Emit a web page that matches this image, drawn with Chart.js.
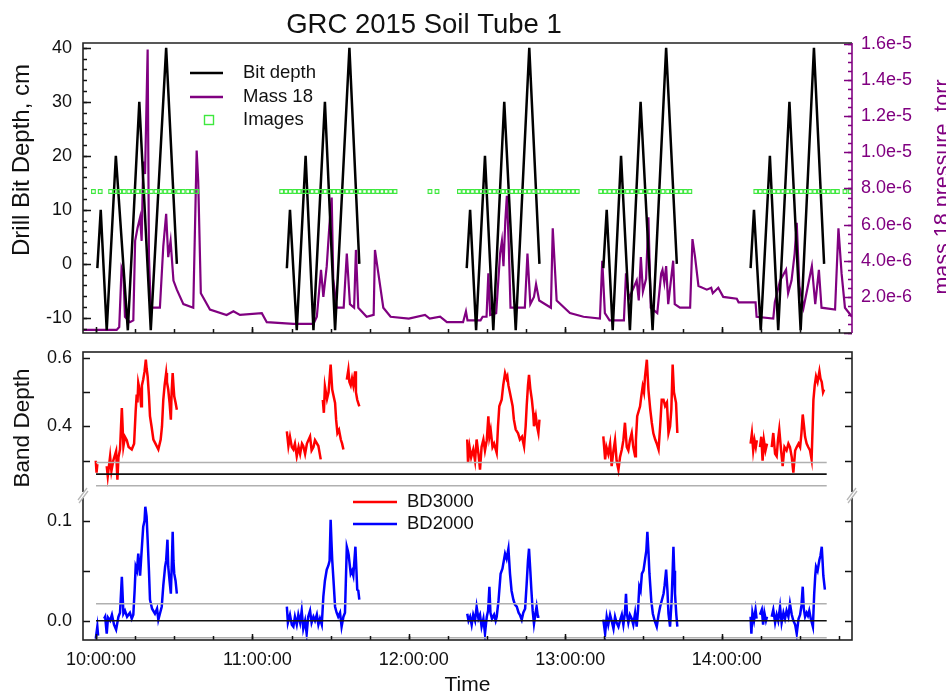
<!DOCTYPE html>
<html>
<head>
<meta charset="utf-8">
<script src="https://cdn.jsdelivr.net/npm/chart.js@4.4.1/dist/chart.umd.min.js"></script>
<style>
  body { margin: 0; background: #fff; width: 946px; height: 696px; overflow: hidden; position: relative; }
  canvas { position: absolute; left: 0; }
  #topChart { top: 0; }
  #bandChart { top: 345px; }
</style>
</head>
<body>
<canvas id="topChart" width="946" height="345"></canvas>
<canvas id="bandChart" width="946" height="351"></canvas>
<script>
// time is in minutes after 10:00:00
const hourLabels = ['10:00:00', '11:00:00', '12:00:00', '13:00:00', '14:00:00'];

// drill bit depth, cm  [minute, depth]  (null = drill idle)
const drillBit = [
  [0.5,-0.8],[1.8,10],[4.1,-12.3],[7.6,20],[12.2,-12.3],[16.6,30],[21.0,-12.3],[26.9,40],[31.0,0],[32,null],
  [73.2,-0.8],[74.4,10],[77.0,-12.3],[80.4,20],[83.4,-12.3],[87.8,30],[91.7,-12.3],[97.2,40],[101.0,0],[102,null],
  [142.2,-0.8],[143.5,10],[145.8,-12.3],[149.2,20],[152.4,-12.3],[156.6,30],[161.0,-12.3],[166.2,40],[170.1,0],[171,null],
  [194.6,-0.8],[195.9,10],[198.2,-12.3],[201.4,20],[204.8,-12.3],[208.9,30],[213.5,-12.3],[218.7,40],[222.8,0],[224,null],
  [251.1,-0.8],[252.4,10],[255.0,-12.3],[258.5,20],[261.7,-12.3],[266.0,30],[270.3,-12.3],[275.4,40],[279.3,0]
];

// mass 18 pressure in micro-torr  [minute, pressure]
const mass18 = [
  [-5,0.17],[7.9,0.17],[8.9,0.33],[9.8,3.6],[10.5,3.3],[11.1,0.9],[13.0,0.6],[14.3,0.7],[15.0,5.1],[15.9,5.8],
  [16.9,6.4],[17.5,5.1],[18.1,9.5],[18.8,8.8],[19.8,15.7],[20.3,4.2],[21.0,1.4],[24.5,1.4],[25.8,4.8],[26.9,6.6],
  [27.7,4.2],[28.6,5.1],[29.7,2.9],[31.0,2.4],[33.5,1.6],[37.3,1.4],[38.6,10.1],[39.2,8.4],[40.2,2.2],[43.7,1.3],
  [50.1,1.0],[52.7,1.2],[55.2,1.0],[63.6,1.1],[65.5,0.6],[75.7,0.5],[83.4,0.5],[84.7,0.9],[86.3,3.5],[87.2,2.0],
  [88.5,3.7],[89.5,5.9],[90.4,7.5],[91.0,3.0],[92.3,1.4],[95.0,1.4],[96.2,4.4],[97.4,1.6],[99.0,1.4],[99.7,4.6],
  [100.6,1.4],[103.8,0.9],[106.5,1.0],[107.0,4.6],[108.3,3.3],[110.2,1.4],[113.0,0.9],[120.0,0.8],[126.2,1.0],[128.0,0.8],
  [132.0,0.9],[134.6,0.6],[140.8,0.6],[141.9,1.2],[142.5,0.7],[147.5,0.7],[148.3,0.9],[149.8,0.9],[150.5,3.3],[151.2,1.0],
  [153.5,1.1],[155.0,4.4],[155.7,5.1],[156.3,3.7],[157.0,6.2],[157.6,7.6],[158.3,5.0],[159.0,1.4],[164.5,1.4],[165.5,4.4],
  [166.6,1.6],[168.0,2.0],[168.8,2.7],[170.0,1.8],[174.5,1.4],[175.2,5.8],[176.7,1.8],[181.8,1.1],[187.0,0.9],[193.3,0.8],
  [194.2,4.0],[195.2,1.1],[197.0,0.7],[202.5,0.7],[203.3,3.3],[204.4,1.9],[207.4,2.9],[208.2,1.8],[209.0,4.2],[209.8,2.3],
  [211.0,3.0],[211.9,6.4],[212.8,1.4],[215.3,1.1],[216.8,3.3],[217.3,3.5],[218.0,2.8],[218.7,3.7],[219.5,1.6],[221.4,4.0],
  [222.0,1.6],[224.0,1.4],[227.9,1.4],[228.8,5.2],[229.8,4.2],[231.1,2.6],[234.3,2.4],[236.0,2.5],[236.6,2.2],[238.7,2.5],
  [240.6,2.0],[245.8,1.9],[246.5,1.7],[253.0,1.7],[253.4,0.9],[259.8,0.8],[260.4,1.7],[262.4,2.9],[264.7,3.5],[265.5,2.2],
  [266.8,2.9],[268.0,4.4],[268.8,6.1],[269.8,2.6],[271.4,1.4],[274.6,3.7],[275.9,1.6],[277.3,3.5],[278.3,1.4],[283.5,1.3],
  [284.8,5.8],[286.0,3.3],[287.3,1.4],[290,0.9]
];

// camera image times (minutes) and the level they are plotted at
const imageTimes = [
  -1.0, 1.6,
  5.6, 7.3, 9.1, 10.8, 12.6, 14.3, 16.0, 17.8, 19.5, 21.2, 23.0, 24.7, 26.5, 28.2, 29.9, 31.7, 33.4, 35.2, 36.9, 38.6,
  71.2, 72.9, 74.5, 76.2, 77.9, 79.6, 81.2, 82.9, 84.6, 86.3, 87.9, 89.6, 91.3, 92.9, 94.6, 96.3, 98.0, 99.6, 101.3,
  103.0, 104.7, 106.3, 108.0, 109.7, 111.3, 113.0, 114.7,
  128.1, 130.8,
  139.4, 141.1, 142.7, 144.4, 146.1, 147.8, 149.4, 151.1, 152.8, 154.5, 156.1, 157.8, 159.5, 161.2, 162.8, 164.5,
  166.2, 167.9, 169.6, 171.2, 172.9, 174.6, 176.3, 177.9, 179.6, 181.3, 183.0, 184.6,
  193.6, 195.3, 197.0, 198.7, 200.4, 202.2, 203.9, 205.6, 207.3, 209.0, 210.7, 212.4, 214.1, 215.8, 217.5, 219.3,
  221.0, 222.7, 224.4, 226.1, 227.8,
  253.1, 254.8, 256.6, 258.3, 260.1, 261.8, 263.5, 265.3, 267.0, 268.8, 270.5, 272.2, 274.0, 275.7, 277.5, 279.2,
  280.9, 282.7, 284.4,
  287.3, 289.3
];
const imageLevel = 13.4;

// band depth 3000  [minute, BD]
const bd3000 = [
  [-0.1,0.30],[0.2,0.265],[0.5,0.29],[1.5,null],
  [4.1,0.284],[4.5,0.255],[5.4,0.313],[5.9,0.27],[6.6,0.30],[7.7,0.328],[8.2,0.245],[8.6,0.31],[9.2,0.333],[9.9,0.454],
  [10.5,0.342],[11.1,0.37],[11.8,0.36],[12.5,0.34],[13.7,0.333],[14.6,0.35],[15.2,0.444],[15.6,0.493],[15.9,0.47],[16.2,0.527],
  [16.9,0.50],[17.3,0.459],[17.6,0.52],[18.1,0.537],[18.6,0.56],[19.1,0.595],[19.4,0.57],[19.8,0.546],[20.3,0.49],[20.7,0.43],
  [21.3,0.40],[22.0,0.362],[22.8,0.35],[23.9,0.333],[24.8,0.362],[25.3,0.40],[25.8,0.478],[26.3,0.52],[26.9,0.556],[27.2,0.53],
  [27.7,0.508],[28.2,0.47],[28.7,0.42],[29.0,0.50],[29.4,0.556],[29.7,0.52],[30.0,0.488],[30.5,0.47],[31.0,0.449],[32,null],
  [73.2,0.386],[73.8,0.343],[74.4,0.37],[75.1,0.34],[75.7,0.333],[76.3,0.35],[77.0,0.313],[77.7,0.34],[78.3,0.32],[79.0,0.35],
  [79.5,0.343],[80.2,0.32],[80.9,0.35],[82.1,0.371],[82.7,0.33],[83.4,0.34],[84.0,0.36],[85.3,0.343],[86.2,0.304],[86.6,null],
  [87.0,0.478],[87.4,0.44],[87.8,0.517],[88.6,0.48],[89.2,0.50],[90.0,0.581],[90.6,0.508],[91.1,0.49],[91.7,0.469],[92.1,0.42],
  [92.6,0.381],[93.2,0.39],[93.9,0.362],[94.4,0.35],[94.9,0.333],[95.5,null],
  [96.2,0.537],[96.8,0.566],[97.2,0.53],[97.7,0.52],[98.2,0.54],[98.7,0.52],[99.4,0.561],[99.7,0.50],[100.2,0.478],[101.0,0.459],[102,null],
  [142.4,0.362],[142.7,0.294],[143.3,0.34],[143.9,0.31],[144.7,0.333],[145.4,0.30],[146.0,0.362],[146.7,0.32],[147.3,0.274],[147.9,0.34],
  [148.6,0.362],[149.2,0.33],[149.9,0.36],[150.5,0.43],[150.9,0.37],[151.4,0.39],[152.1,0.34],[152.7,0.35],[153.7,0.323],[154.2,0.40],
  [154.7,0.459],[155.6,0.478],[156.2,0.52],[156.9,0.556],[157.5,0.54],[157.8,0.546],[158.2,0.52],[158.8,0.498],[159.8,0.46],[160.3,0.42],
  [161.0,0.391],[161.9,0.38],[162.6,0.362],[163.4,0.37],[164.2,0.342],[164.8,0.40],[165.2,0.459],[165.7,0.52],[166.1,0.551],[166.6,0.51],
  [167.2,0.478],[167.7,0.44],[168.0,0.401],[168.7,0.43],[169.2,0.40],[169.7,0.381],[170.1,0.42],[171,null],
  [194.6,0.371],[195.3,0.304],[195.8,0.34],[196.5,0.32],[197.2,0.35],[197.8,0.284],[198.5,0.33],[199.1,0.36],[199.7,0.30],[200.4,0.274],
  [201.0,0.31],[201.7,0.333],[202.3,0.36],[202.9,0.411],[203.6,0.34],[204.2,0.33],[204.8,0.36],[205.5,0.381],[206.1,0.34],[206.8,0.313],
  [207.1,0.36],[207.6,0.43],[208.7,0.459],[209.2,0.49],[209.7,0.517],[210.2,0.50],[210.6,0.546],[211.3,0.595],[211.6,0.55],[211.9,0.508],
  [212.6,0.45],[213.2,0.411],[213.8,0.38],[214.5,0.362],[215.1,0.35],[215.8,0.333],[216.4,0.40],[217.0,0.478],[217.7,0.478],[218.3,0.46],
  [219.0,0.47],[219.6,0.381],[220.2,0.40],[220.7,0.45],[221.2,0.581],[221.7,0.50],[222.5,0.469],[223.0,0.381],[224,null],
  [251.1,0.35],[251.6,0.38],[252.1,0.33],[252.6,0.36],[253.1,0.34],[253.5,0.36],[254.1,null],
  [254.7,0.34],[255.2,0.37],[255.7,0.30],[256.2,0.36],[256.8,0.33],[257.4,0.35],[258.3,null],
  [259.2,0.34],[259.8,0.381],[260.5,0.32],[261.1,0.313],[261.6,0.36],[262.1,0.391],[262.8,0.33],[263.4,0.284],[264.1,0.34],[264.9,0.33],
  [265.6,0.35],[266.2,0.34],[266.9,0.31],[267.5,0.265],[268.2,0.33],[268.8,0.34],[269.5,0.35],[270.1,0.34],[270.6,0.38],[271.1,0.435],
  [271.6,0.40],[272.0,0.37],[272.6,0.35],[273.2,0.34],[273.9,0.33],[274.5,0.304],[274.9,0.40],[275.2,0.478],[275.7,0.52],[276.2,0.546],
  [276.8,0.53],[277.5,0.561],[277.9,0.54],[278.4,0.53],[278.9,0.50],[279.3,0.508]
];

// band depth 2000  [minute, BD]
const bd2000 = [
  [-0.1,-0.018],[0.5,-0.006],[0.8,-0.015],[1.5,null],
  [3.1,0.002],[3.5,0.004],[4.1,-0.013],[4.6,0.003],[5.4,0.0],[6.1,0.006],[6.9,-0.004],[7.7,-0.009],[8.6,0.004],[9.2,0.008],
  [9.9,0.044],[10.5,0.007],[11.1,0.01],[11.9,0.004],[13.0,0.008],[13.7,0.002],[14.3,0.006],[14.8,0.03],[15.2,0.054],[15.7,0.05],
  [16.2,0.067],[16.9,0.045],[17.5,0.07],[18.1,0.094],[18.6,0.10],[18.9,0.114],[19.4,0.104],[19.8,0.081],[20.3,0.05],[20.7,0.021],
  [21.5,0.012],[22.6,0.007],[23.4,0.012],[23.9,0.001],[24.6,0.008],[25.2,0.014],[25.8,0.035],[26.5,0.054],[26.9,0.06],[27.4,0.081],
  [27.7,0.054],[28.2,0.04],[28.7,0.027],[29.1,0.06],[29.4,0.089],[29.7,0.06],[30.0,0.047],[30.5,0.04],[31.0,0.027],[32,null],
  [73.2,0.014],[73.6,-0.002],[74.4,0.006],[75.1,-0.004],[75.7,-0.006],[76.3,0.004],[77.0,-0.004],[77.6,0.006],[78.3,-0.002],[78.9,0.01],
  [79.5,-0.008],[80.2,0.0],[80.8,-0.013],[81.4,0.004],[82.1,0.01],[82.7,-0.002],[83.4,0.004],[84.0,0.0],[84.7,0.006],[85.3,-0.004],
  [85.9,0.002],[86.6,-0.004],[87.2,0.024],[87.8,0.04],[88.5,0.051],[89.1,0.055],[89.6,0.06],[90.0,0.101],[90.3,0.08],[90.6,0.061],
  [91.1,0.04],[91.7,0.014],[92.3,0.008],[92.9,0.004],[93.6,0.008],[94.2,-0.006],[94.9,0.004],[95.5,0.008],[96.2,0.074],[96.6,0.07],
  [96.9,0.066],[97.7,0.047],[98.2,0.05],[98.7,0.045],[99.5,0.074],[99.9,0.05],[100.2,0.031],[100.6,0.03],[101.0,0.021],[102,null],
  [142.4,0.007],[142.9,0.0],[143.5,0.004],[144.1,-0.004],[144.7,0.006],[145.4,0.0],[146.0,0.014],[146.7,0.002],[147.3,0.006],[147.9,-0.006],
  [148.6,0.002],[149.2,-0.013],[149.9,0.004],[150.4,0.01],[150.9,0.034],[151.3,0.008],[151.9,0.002],[152.7,0.006],[153.3,0.0],[153.7,0.004],
  [154.4,0.02],[155.2,0.047],[155.9,0.052],[156.9,0.067],[157.5,0.062],[158.2,0.072],[158.8,0.047],[159.4,0.03],[160.1,0.021],[160.7,0.016],
  [161.4,0.014],[162.1,0.008],[162.6,0.006],[163.3,0.001],[163.9,0.008],[164.6,0.012],[165.2,0.037],[165.7,0.06],[166.1,0.072],[166.6,0.05],
  [167.0,0.031],[167.5,0.01],[168.0,-0.003],[168.5,0.006],[169.0,0.014],[169.5,0.004],[170.1,0.004],[171,null],
  [194.6,0.001],[195.3,-0.013],[195.9,0.004],[196.5,-0.004],[197.2,0.006],[197.8,0.0],[198.5,-0.008],[199.1,0.004],[199.7,-0.002],[200.4,-0.006],
  [201.0,0.0],[201.7,0.006],[202.3,-0.004],[202.9,0.008],[203.3,0.027],[203.7,0.006],[204.2,-0.002],[204.8,0.006],[205.5,0.002],[206.1,-0.004],
  [206.8,0.008],[207.4,-0.006],[207.9,0.01],[208.4,0.034],[208.9,0.03],[209.4,0.047],[210.0,0.05],[210.6,0.061],[211.1,0.07],[211.5,0.089],
  [211.9,0.07],[212.3,0.047],[213.0,0.02],[213.6,0.007],[214.3,0.0],[215.1,-0.006],[215.8,0.006],[216.4,0.014],[217.0,0.02],[217.7,0.027],
  [218.1,0.035],[218.7,0.051],[219.2,0.03],[219.6,0.007],[220.2,-0.006],[220.8,0.02],[221.2,0.05],[221.5,0.074],[221.8,0.05],[222.1,0.027],
  [222.6,0.006],[223.0,-0.006],[224,null],
  [251.1,0.004],[251.4,-0.013],[251.8,0.008],[252.4,0.0],[253.0,0.011],[253.4,0.002],[254.1,null],
  [254.7,0.006],[255.4,0.011],[255.9,-0.004],[256.4,0.008],[257.0,0.0],[257.4,0.004],[258.3,null],
  [259.2,0.004],[259.8,0.011],[260.5,-0.002],[261.1,0.006],[261.7,0.0],[262.4,0.014],[263.0,-0.002],[263.7,0.008],[264.3,0.002],[264.9,0.01],
  [265.6,0.004],[266.2,0.017],[266.9,0.006],[267.5,0.0],[268.2,-0.004],[268.8,-0.013],[269.5,0.002],[270.1,0.006],[270.6,0.015],[271.1,0.034],
  [271.5,0.012],[272.0,0.004],[272.6,0.008],[273.1,0.005],[273.6,0.01],[274.2,0.002],[275.0,-0.006],[275.5,0.027],[275.9,0.045],[276.2,0.054],
  [276.8,0.05],[277.5,0.061],[277.9,0.065],[278.4,0.074],[278.7,0.06],[279.0,0.045],[279.6,0.031]
];

// baseline (mean) and spread lines for each band depth
const bd3000Mean = 0.261, bd3000Spread = [0.227, 0.295];
const bd2000Mean = 0.0, bd2000Spread = [-0.017, 0.017];
const refSpan = [0, 280.3];

const FONT = '"Liberation Sans", Arial, Helvetica, sans-serif';
const PURPLE = '#800080';
Chart.defaults.font.family = FONT;
Chart.defaults.color = '#111';

const pts = arr => arr.map(p => ({ x: p[0], y: p[1] }));
const hline = v => refSpan.map(t => ({ x: t, y: v }));

// fixes an axis box to an exact size so both panels line up
const fixBox = (w, h) => s => {
  if (w != null) s.width = w;
  if (h != null) s.height = h;
  s.paddingTop = 0; s.paddingBottom = 0; s.paddingLeft = 0; s.paddingRight = 0;
};
const noGrid = { display: false, drawTicks: false };

function range(from, to, step) {
  const out = [];
  for (let v = from; v <= to + step / 1000; v += step) out.push(+v.toFixed(9));
  return out;
}

// ticks pointing into the plot, like the original
function inTicks(chart, scaleId, side, values, len, color) {
  const ctx = chart.ctx, a = chart.chartArea, s = chart.scales[scaleId];
  ctx.save();
  ctx.strokeStyle = color;
  ctx.lineWidth = 1.5;
  ctx.beginPath();
  values.forEach(v => {
    if (v < s.min || v > s.max) return;
    const p = Math.round(s.getPixelForValue(v)) + 0.5;
    if (side === 'left') { ctx.moveTo(a.left, p); ctx.lineTo(a.left + len, p); }
    else if (side === 'right') { ctx.moveTo(a.right, p); ctx.lineTo(a.right - len, p); }
    else { ctx.moveTo(p, a.bottom); ctx.lineTo(p, a.bottom - len); }
  });
  ctx.stroke();
  ctx.restore();
}

function text(ctx, str, x, y, size, opts = {}) {
  ctx.save();
  ctx.translate(x, y);
  if (opts.rotate) ctx.rotate(opts.rotate);
  ctx.font = size + 'px ' + FONT;
  ctx.fillStyle = opts.color || '#111';
  ctx.textAlign = opts.align || 'center';
  ctx.textBaseline = opts.baseline || 'middle';
  ctx.fillText(str, 0, 0);
  ctx.restore();
}

function legendLine(ctx, x1, x2, y, color, w) {
  ctx.save();
  ctx.strokeStyle = color; ctx.lineWidth = w;
  ctx.beginPath(); ctx.moveTo(x1, y); ctx.lineTo(x2, y); ctx.stroke();
  ctx.restore();
}

const minuteTicks = range(0, 285, 15);
const hourTicks = range(0, 240, 60);
const IMG_GREEN = '#3ee83e';

const topDecor = {
  id: 'topDecor',
  afterDraw(chart) {
    const ctx = chart.ctx, a = chart.chartArea;
    inTicks(chart, 'y', 'left', range(-12, 40, 2), 4, '#111');
    inTicks(chart, 'y', 'left', range(-10, 40, 10), 8, '#111');
    inTicks(chart, 'y2', 'right', range(0, 16e-6, 0.5e-6), 4, PURPLE);
    inTicks(chart, 'y2', 'right', range(0, 16e-6, 2e-6), 8, PURPLE);
    inTicks(chart, 'x', 'bottom', minuteTicks, 4, '#111');
    inTicks(chart, 'x', 'bottom', hourTicks, 6, '#111');
    ctx.save();
    ctx.lineWidth = 1.6;
    ctx.strokeStyle = '#222';
    ctx.beginPath();
    ctx.moveTo(a.right, a.top); ctx.lineTo(a.left, a.top); ctx.lineTo(a.left, a.bottom); ctx.lineTo(a.right, a.bottom);
    ctx.stroke();
    ctx.strokeStyle = PURPLE;
    ctx.beginPath(); ctx.moveTo(a.right, a.top); ctx.lineTo(a.right, a.bottom); ctx.stroke();
    ctx.restore();

    text(ctx, 'GRC 2015 Soil Tube 1', 424, 33, 27.5, { baseline: 'alphabetic' });
    text(ctx, 'Drill Bit Depth, cm', 22, 160, 24, { rotate: -Math.PI / 2 });
    text(ctx, 'mass 18 pressure, torr', 943, 187, 21.5, { rotate: -Math.PI / 2, color: PURPLE });

    legendLine(ctx, 190, 223, 73, '#000', 2.5);
    text(ctx, 'Bit depth', 243, 73, 18.5, { align: 'left' });
    legendLine(ctx, 190, 223, 97, PURPLE, 2.5);
    text(ctx, 'Mass 18', 243, 97, 18.5, { align: 'left' });
    ctx.save();
    ctx.strokeStyle = IMG_GREEN; ctx.lineWidth = 1.4;
    ctx.strokeRect(204.5, 115.5, 9, 9);
    ctx.restore();
    text(ctx, 'Images', 243, 120, 18.5, { align: 'left' });
  }
};

new Chart(document.getElementById('topChart'), {
  type: 'line',
  data: {
    datasets: [
      { label: 'Images', data: imageTimes.map(t => ({ x: t, y: imageLevel })), yAxisID: 'y', showLine: false,
        pointStyle: 'rect', pointRadius: 2.6, pointBorderWidth: 1.1, borderColor: IMG_GREEN,
        backgroundColor: 'rgba(255,255,255,0)', order: 0 },
      { label: 'Bit depth', data: pts(drillBit), yAxisID: 'y', borderColor: '#000', borderWidth: 2.5,
        pointRadius: 0, order: 1 },
      { label: 'Mass 18', data: mass18.map(p => ({ x: p[0], y: p[1] * 1e-6 })), yAxisID: 'y2',
        borderColor: PURPLE, borderWidth: 2.2, pointRadius: 0, order: 2 }
    ]
  },
  options: {
    responsive: false,
    animation: false,
    events: [],
    layout: { padding: { top: 43, left: 0, right: 0, bottom: 0 } },
    plugins: { legend: { display: false }, tooltip: { enabled: false } },
    scales: {
      x: { type: 'linear', min: -5, max: 290, ticks: { display: false }, grid: noGrid,
           border: { display: false }, afterFit: fixBox(null, 12) },
      y: { position: 'left', min: -12.8, max: 40.9,
           ticks: { stepSize: 10, includeBounds: false, padding: 11, font: { size: 18 } },
           grid: noGrid, border: { display: false }, afterFit: fixBox(83, null) },
      y2: { position: 'right', min: 0, max: 1.6055e-5,
            ticks: { stepSize: 2e-6, includeBounds: false, padding: 9, color: PURPLE, font: { size: 18 },
                     callback: v => (v === 0 ? '' : v.toExponential(1)) },
            grid: noGrid, border: { display: false }, afterFit: fixBox(94, null) }
    }
  },
  plugins: [topDecor]
});

const bandDecor = {
  id: 'bandDecor',
  afterDraw(chart) {
    const ctx = chart.ctx, a = chart.chartArea;
    const upperTicks = [0.3, 0.4, 0.5, 0.6], lowerTicks = [0, 0.05, 0.1];
    ['left', 'right'].forEach(side => {
      inTicks(chart, 'yA', side, upperTicks, 7, '#111');
      inTicks(chart, 'yB', side, lowerTicks, 7, '#111');
    });
    inTicks(chart, 'x', 'bottom', minuteTicks, 4, '#111');
    inTicks(chart, 'x', 'bottom', hourTicks, 6, '#111');
    ctx.save();
    ctx.lineWidth = 1.6;
    ctx.strokeStyle = '#222';
    ctx.strokeRect(a.left, a.top, a.right - a.left, a.bottom - a.top);
    // axis break marks
    const yb = chart.scales.yA.bottom;
    [a.left, a.right].forEach(x => {
      ctx.fillStyle = '#fff';
      ctx.fillRect(x - 2, yb - 3, 4, 6);
      ctx.strokeStyle = '#b8b8b8';
      ctx.lineWidth = 1.3;
      ctx.beginPath();
      ctx.moveTo(x - 5, yb + 5); ctx.lineTo(x + 4, yb - 7);
      ctx.moveTo(x - 4, yb + 8); ctx.lineTo(x + 5, yb - 4);
      ctx.stroke();
    });
    ctx.restore();

    text(ctx, 'Band Depth', 23, 83, 22.5, { rotate: -Math.PI / 2 });
    legendLine(ctx, 353, 397, 157, '#ff0000', 2.5);
    text(ctx, 'BD3000', 407, 157, 18.5, { align: 'left' });
    legendLine(ctx, 353, 397, 179, '#0000ff', 2.5);
    text(ctx, 'BD2000', 407, 179, 18.5, { align: 'left' });
  }
};

const refLine = (v, axis, color) => ({
  data: hline(v), yAxisID: axis, borderColor: color, borderWidth: 1.6, pointRadius: 0, order: 0
});

new Chart(document.getElementById('bandChart'), {
  type: 'line',
  data: {
    datasets: [
      { label: 'BD3000', data: pts(bd3000), yAxisID: 'yA', borderColor: '#ff0000', borderWidth: 2.5, pointRadius: 0, order: 1 },
      { label: 'BD2000', data: pts(bd2000), yAxisID: 'yB', borderColor: '#0000ff', borderWidth: 2.5, pointRadius: 0, order: 1 },
      refLine(bd3000Mean, 'yA', '#111'),
      refLine(bd3000Spread[0], 'yA', '#b0b0b0'),
      refLine(bd3000Spread[1], 'yA', '#b0b0b0'),
      refLine(bd2000Mean, 'yB', '#111'),
      refLine(bd2000Spread[0], 'yB', '#b0b0b0'),
      refLine(bd2000Spread[1], 'yB', '#b0b0b0')
    ]
  },
  options: {
    responsive: false,
    animation: false,
    events: [],
    layout: { padding: { top: 7, left: 0, right: 94, bottom: 0 } },
    plugins: { legend: { display: false }, tooltip: { enabled: false } },
    scales: {
      x: { type: 'linear', min: -5, max: 290,
           ticks: { stepSize: 60, includeBounds: false, padding: 9, labelOffset: 5, font: { size: 18 },
                    maxRotation: 0, callback: v => hourLabels[v / 60] || '' },
           title: { display: true, text: 'Time', color: '#111', font: { size: 21, lineHeight: 1.0 }, padding: 0 },
           grid: noGrid, border: { display: false }, afterFit: fixBox(null, 56) },
      yA: { position: 'left', stack: 'band', stackWeight: 143, weight: 2, min: 0.2, max: 0.6175,
            ticks: { stepSize: 0.1, includeBounds: false, padding: 11, font: { size: 18 },
                     callback: v => (Math.abs(v - 0.4) < 1e-6 || Math.abs(v - 0.6) < 1e-6 ? v.toFixed(1) : '') },
            grid: noGrid, border: { display: false }, afterFit: fixBox(83, null) },
      yB: { position: 'left', stack: 'band', stackWeight: 145, weight: 1, min: -0.0193, max: 0.1257,
            ticks: { stepSize: 0.05, includeBounds: false, padding: 11, font: { size: 18 },
                     callback: v => (Math.abs(v) < 1e-6 || Math.abs(v - 0.1) < 1e-6 ? Math.abs(v).toFixed(1) : '') },
            grid: noGrid, border: { display: false }, afterFit: fixBox(83, null) }
    }
  },
  plugins: [bandDecor]
});
</script>
</body>
</html>
